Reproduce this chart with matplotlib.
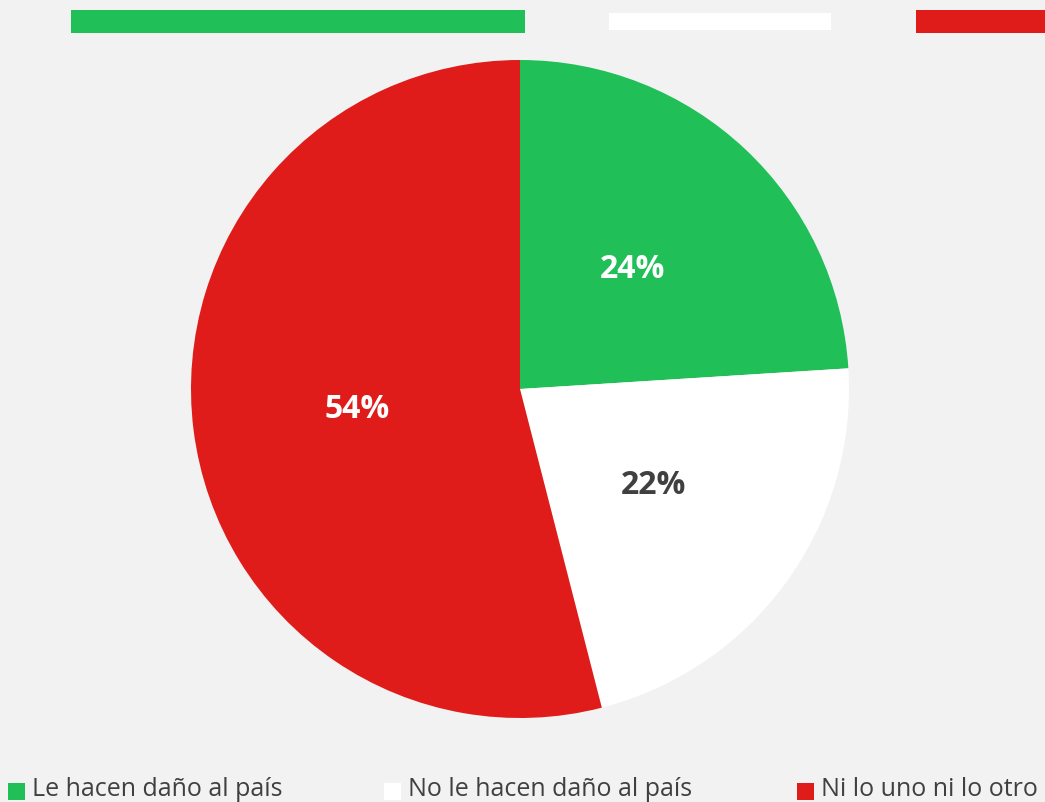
import matplotlib
matplotlib.use("Agg")
import matplotlib.pyplot as plt
from matplotlib.patches import Rectangle

categories = ["Le hacen daño al país", "No le hacen daño al país", "Ni lo uno ni lo otro"]
values = [24, 22, 54]
colors = ["#20bf58", "#ffffff", "#df1c1a"]
label_colors = ["#ffffff", "#404040", "#ffffff"]

W, H = 1045, 802
fig = plt.figure(figsize=(W / 100, H / 100), dpi=100)
fig.patch.set_facecolor("#f2f2f2")

def fx(px):
    return px / W

def fy(py):
    return 1 - py / H

# pie axes (pixel box 191..849 x 60..718)
ax = fig.add_axes([fx(191), fy(718), 658 / W, 658 / H])
ax.set_facecolor("#f2f2f2")
wedges, texts, autotexts = ax.pie(
    values, colors=colors, startangle=90, counterclock=False,
    autopct=lambda p: f"{p:.0f}%", pctdistance=0.5,
    wedgeprops=dict(linewidth=0), radius=1.0,
)
for t, c in zip(autotexts, label_colors):
    t.set_color(c)
    t.set_fontsize(23)
    t.set_fontweight("bold")
    t.set_family(["Open Sans", "DejaVu Sans"])
ax.set_xlim(-1, 1)
ax.set_ylim(-1, 1)
ax.axis("off")

# decorative top bars
bars = [(71, 10, 454, 23), (609, 13, 222, 17), (916, 10, 129, 23)]
for (x, y, w, h), c in zip(bars, colors):
    fig.patches.append(Rectangle((fx(x), fy(y + h)), w / W, h / H,
                                 transform=fig.transFigure, facecolor=c,
                                 edgecolor="none"))

# legend
leg_x = [8, 384, 797]
for x, cat, c in zip(leg_x, categories, colors):
    fig.patches.append(Rectangle((fx(x), fy(800)), 17 / W, 17 / H,
                                 transform=fig.transFigure, facecolor=c,
                                 edgecolor="none"))
    fig.text(fx(x + 24), fy(789), cat, fontsize=18, color="#404040",
             va="center", ha="left", family=["Open Sans", "DejaVu Sans"])

fig.savefig("out.png", dpi=100, facecolor=fig.get_facecolor())
